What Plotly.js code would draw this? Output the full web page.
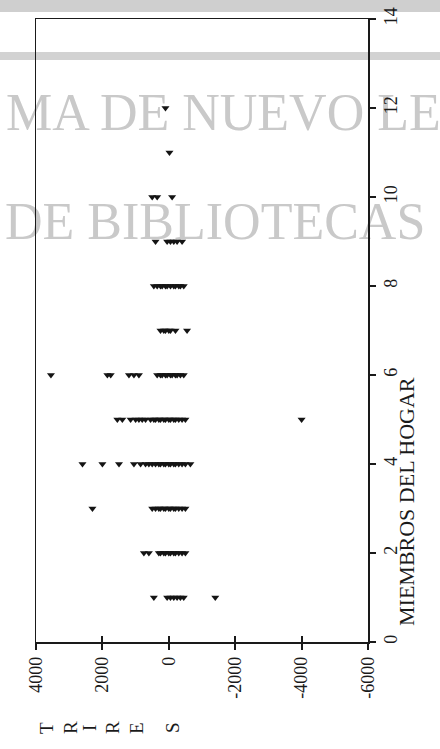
<!DOCTYPE html>
<html>
<head>
<meta charset="utf-8">
<script src="https://cdn.plot.ly/plotly-3.0.1.min.js"></script>
<style>html,body{margin:0;padding:0;background:#fff;}#chart{width:440px;height:749px;}</style>
</head>
<body>
<div id="chart"></div>
<script>
// Household members (x of the original chart) and residuals
const members = [1, 2, 3, 4, 5, 6, 7, 8, 9, 10, 11, 12];
const res1  = [450, 50, -50, -150, -250, -350, -450, -1400];
const res2  = [750, 600, 300, 250, 150, 100, 0, -50, -150, -200, -300, -400, -500];
const res3  = [2300, 500, 400, 300, 250, 150, 100, 0, -50, -150, -200, -300, -400, -500];
const res4  = [2600, 2000, 1500, 1050, 850, 700, 600, 500, 400, 300, 250, 150, 100, 0, -50, -150, -200, -300, -400, -500, -650];
const res5  = [1550, 1400, 1150, 1000, 900, 800, 700, 550, 450, 400, 300, 250, 150, 100, 0, -50, -150, -200, -300, -400, -500, -4000];
const res6  = [3550, 1850, 1750, 1200, 1050, 900, 350, 250, 200, 100, 50, -50, -100, -200, -250, -350, -450];
const res7  = [250, 150, 100, 0, -50, -200, -550];
const res8  = [450, 350, 250, 200, 100, 50, -50, -150, -200, -300, -350, -450];
const res9  = [400, 50, -50, -150, -250, -400];
const res10 = [500, 350, -100];
const res11 = [-20];
const res12 = [100];
const residuals = [res1, res2, res3, res4, res5, res6, res7, res8, res9, res10, res11, res12];

const resTicks = [4000, 2000, 0, -2000, -4000, -6000];
const resTickText = ["4000", "2000", "0", "-2000", "-4000", "-6000"];
const memTicks = [0, 2, 4, 6, 8, 10, 12, 14];
const yTitle = "MIEMBROS DEL HOGAR";
const xTitleLetters = ["T", "R", "I", "R", "E", "S"];
const watermark1 = "MA DE NUEVO LE";
const watermark2 = "DE BIBLIOTECAS";

const xs = [], ys = [];
residuals.forEach((arr, i) => arr.forEach(v => { xs.push(v); ys.push(members[i]); }));

const serif = "Liberation Serif, Times New Roman, serif";

const trace = {
  type: "scatter", mode: "markers", x: xs, y: ys,
  marker: { symbol: "triangle-down", size: 7, color: "#141414" },
  hoverinfo: "x+y", showlegend: false
};
const dummy = { type: "scatter", mode: "markers", x: [0], y: [0], xaxis: "x2", yaxis: "y",
  marker: { size: 0, opacity: 0 }, hoverinfo: "skip", showlegend: false };

// px -> paper conversions (plot area: left 36, width 332, top 19, height 623)
const px = p => (p - 36) / 332;
const py = p => (642 - p) / 623;

const annotations = [
  { text: yTitle, x: px(406), y: py(502), xref: "paper", yref: "paper", showarrow: false,
    xanchor: "center", yanchor: "middle",
    textangle: -90, font: { family: serif, size: 22, color: "#1a1a1a" } }
];
const letterX = [46, 70, 89, 112, 136, 172];
xTitleLetters.forEach((ch, i) => annotations.push({
  text: ch, x: px(letterX[i]), y: py(728), xref: "paper", yref: "paper", showarrow: false,
  xanchor: "center", yanchor: "middle",
  textangle: -90, font: { family: serif, size: 19, color: "#1a1a1a" }
}));

const wmColor = "#c9c9c9";
const shapes = [
  { type: "rect", xref: "paper", yref: "paper", layer: "below", x0: px(0), x1: px(440), y0: py(60), y1: py(52),
    fillcolor: "#d2d2d2", line: { width: 0 } },
  { type: "rect", xref: "paper", yref: "paper", layer: "below", x0: px(0), x1: px(440), y0: py(12), y1: py(0),
    fillcolor: "#cfcfcf", line: { width: 0 } },
  { type: "rect", xref: "paper", yref: "paper", layer: "below", x0: px(3), x1: px(438), y0: py(132), y1: py(80),
    fillcolor: "rgba(0,0,0,0)", line: { width: 0 },
    label: { text: watermark1, textposition: "middle left", padding: 0,
      font: { family: serif, size: 52, color: wmColor } } },
  { type: "rect", xref: "paper", yref: "paper", layer: "below", x0: px(2), x1: px(438), y0: py(241), y1: py(189),
    fillcolor: "rgba(0,0,0,0)", line: { width: 0 },
    label: { text: watermark2, textposition: "middle left", padding: 0,
      font: { family: serif, size: 52, color: wmColor } } }
];

const layout = {
  width: 440, height: 749,
  margin: { l: 36, r: 72, t: 19, b: 107, pad: 0 },
  paper_bgcolor: "#ffffff", plot_bgcolor: "rgba(0,0,0,0)",
  showlegend: false,
  font: { family: serif, color: "#1a1a1a" },
  xaxis: {
    range: [4000, -6000], tickmode: "array", tickvals: resTicks, ticktext: resTickText,
    tickangle: -90, ticks: "outside", ticklen: 6, tickwidth: 2, tickcolor: "#1a1a1a",
    showline: true, mirror: true, linecolor: "#1a1a1a", linewidth: 1.5,
    showgrid: false, zeroline: false, tickfont: { family: serif, size: 18, color: "#1a1a1a" }
  },
  xaxis2: {
    range: [4000, -6000], overlaying: "x", anchor: "y", side: "bottom",
    tickmode: "array", tickvals: resTicks, ticks: "inside", ticklen: 6, tickwidth: 2, tickcolor: "#1a1a1a",
    showticklabels: false, showline: false, showgrid: false, zeroline: false
  },
  yaxis: {
    range: [0, 14], side: "right", tickmode: "array", tickvals: memTicks,
    tickangle: -90, ticks: "outside", ticklen: 6, tickwidth: 2, tickcolor: "#1a1a1a",
    showline: true, mirror: true, linecolor: "#1a1a1a", linewidth: 1.5,
    showgrid: false, zeroline: false, tickfont: { family: serif, size: 18, color: "#1a1a1a" }
  },
  annotations: annotations,
  shapes: shapes
};

Plotly.newPlot("chart", [dummy, trace], layout, { displayModeBar: false, staticPlot: true });
</script>
</body>
</html>
